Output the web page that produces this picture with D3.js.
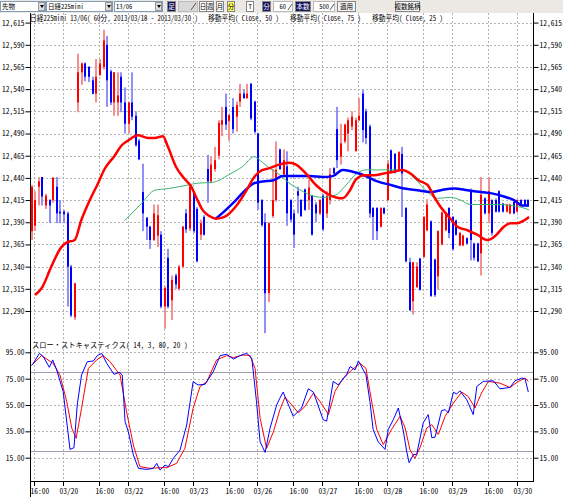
<!DOCTYPE html>
<html>
<head>
<meta charset="utf-8">
<script src="https://cdn.jsdelivr.net/npm/d3@7/dist/d3.min.js"></script>
<style>
body { margin: 0; background: #fff; }
svg text { font-family: "Noto Sans Mono CJK JP", "Noto Sans CJK JP", monospace; font-size: 7.5px; fill: #000; }
svg .toolbar text { font-size: 6.5px; }
</style>
</head>
<body>
<svg id="chart" width="563" height="497"></svg>
<script>
// hourly bars, 60分足
const opens  = [12380,12386,12430,12441,12409,12415,12415,12430,12402,12402,12400,12340,12283,12525,12559,12569,12565,12550,12535,12556,
                12565,12590,12560,12525,12525,12554,12525,12501,12525,12510,12482,12424,12395,12385,12370,12375,12376,12295,12350,12302,
                12330,12315,12340,12400,12383,12423,12405,12376,12396,12450,12436,12450,12465,12500,12520,12504,12520,12509,12526,12535,
                12530,12546,12526,12490,12415,12390,12310,12397,12415,12472,12444,12453,12415,12400,12425,12415,12427,12415,12420,12410,
                12400,12420,12400,12415,12451,12495,12464,12481,12490,12498,12470,12505,12535,12515,12498,12406,12406,12385,12406,12415,
                12471,12467,12449,12467,12406,12345,12301,12317,12349,12351,12381,12391,12348,12329,12365,12381,12406,12396,12392,12364,
                12364,12372,12425,12366,12366,12355,12417,12400,12415,12415,12425,12411,12402,12400,12413,12402,12415,12415,12415];
const highs  = [12432,12425,12441,12441,12422,12416,12441,12441,12415,12404,12402,12342,12322,12580,12570,12570,12566,12554,12574,12574,
                12607,12600,12562,12559,12559,12559,12542,12525,12559,12515,12484,12456,12396,12386,12410,12410,12380,12318,12360,12330,
                12332,12342,12386,12405,12432,12425,12407,12393,12398,12466,12464,12475,12505,12520,12535,12511,12530,12526,12546,12540,
                12546,12547,12527,12491,12416,12400,12390,12450,12481,12473,12472,12470,12416,12404,12430,12416,12428,12438,12421,12413,
                12416,12422,12425,12451,12452,12520,12501,12501,12508,12515,12508,12530,12540,12518,12500,12407,12407,12407,12407,12460,
                12472,12468,12470,12475,12407,12350,12345,12345,12350,12397,12416,12392,12349,12381,12402,12400,12407,12397,12393,12379,
                12376,12373,12428,12367,12367,12441,12418,12441,12416,12417,12426,12412,12411,12411,12414,12416,12416,12416,12416];
const lows   = [12370,12380,12409,12409,12405,12389,12412,12389,12389,12389,12295,12283,12280,12514,12545,12549,12548,12534,12525,12555,
                12562,12520,12522,12510,12510,12514,12490,12490,12505,12475,12460,12380,12370,12360,12369,12362,12293,12270,12293,12280,
                12315,12313,12338,12378,12380,12378,12345,12370,12375,12412,12435,12447,12461,12487,12494,12482,12490,12492,12520,12529,
                12529,12505,12490,12404,12385,12265,12300,12395,12413,12449,12441,12386,12390,12361,12400,12396,12403,12404,12375,12390,
                12398,12380,12395,12410,12444,12451,12455,12479,12470,12494,12470,12504,12480,12478,12395,12370,12370,12384,12399,12414,
                12445,12445,12448,12396,12345,12290,12286,12316,12313,12350,12380,12306,12306,12314,12364,12380,12372,12358,12375,12363,
                12363,12365,12347,12347,12345,12330,12399,12389,12375,12401,12401,12401,12401,12399,12399,12401,12408,12408,12408];
const closes = [12430,12415,12436,12419,12420,12409,12440,12400,12400,12399,12340,12285,12321,12559,12569,12554,12554,12535,12554,12569,
                12595,12550,12525,12559,12533,12525,12501,12525,12509,12477,12461,12400,12385,12370,12400,12398,12295,12316,12295,12325,
                12320,12340,12385,12382,12430,12380,12346,12389,12376,12436,12455,12460,12502,12505,12500,12511,12495,12522,12535,12530,
                12535,12507,12492,12412,12387,12310,12389,12415,12449,12450,12460,12400,12393,12376,12420,12397,12404,12429,12376,12400,
                12415,12382,12420,12444,12445,12460,12479,12500,12505,12509,12505,12510,12494,12485,12400,12396,12380,12406,12400,12456,
                12446,12446,12469,12445,12346,12291,12345,12340,12314,12396,12410,12307,12308,12380,12401,12400,12378,12360,12376,12378,
                12375,12366,12370,12350,12346,12421,12400,12425,12378,12402,12402,12402,12410,12410,12400,12415,12409,12409,12409];

// moving averages, [bar index, value]
const ma25 = [[1,12308],[3,12317],[5.5,12340],[8.3,12362],[9.7,12367],[12,12370],[13.8,12392],[16.2,12415],[18.5,12434],[20.3,12450],
              [23.1,12465],[24.9,12476],[26.8,12482],[29.6,12488],[32.4,12485],[34.2,12485],[36.5,12487],[37.9,12475],[40.2,12452],[42.5,12439],
              [44.4,12430],[46,12416],[47.5,12404],[49.4,12397],[51.2,12394],[54,12397],[56.8,12408],[59.6,12425],[61.4,12438],[63.3,12447],
              [66.1,12451],[68.8,12455],[71.6,12457],[73.5,12455],[76.2,12445],[79,12432],[81.8,12423],[84.6,12418],[86.4,12417],[88.3,12425],
              [90.1,12438],[92.4,12443],[95.1,12443],[97.9,12445],[100.7,12447],[103,12449],[105.3,12445],[107.6,12437],[110,12432],[111.8,12419],
              [113.7,12407],[116,12396],[118.3,12385],[121.1,12381],[123.8,12376],[126.6,12370],[128,12372],[129.4,12377],[131.2,12385],[133.1,12389],
              [135,12389],[136.8,12392],[138.2,12396]];
const ma50 = [[25.9,12392],[30.5,12411],[34.2,12426],[38,12428],[43.5,12432],[46,12434],[50.3,12435],[55,12444],[58.7,12453],[61.9,12464],
              [63.7,12459],[66.1,12451],[68.8,12444],[71.6,12434],[74.4,12427],[77.2,12421],[80.9,12418],[84.6,12421],[87.4,12432],[90.1,12444],
              [92.9,12449],[97,12449],[101.6,12449],[104,12447],[107.2,12436],[110,12424],[112.7,12417],[116.4,12418],[119.2,12415],[122,12410],
              [125.7,12410],[129.4,12410],[133.1,12409],[135.9,12407],[138.2,12404]];
const ma75 = [[51.2,12394],[54,12404],[56.8,12415],[59.6,12427],[61.9,12434],[64.2,12436],[67,12437],[69.8,12442],[73.5,12442],[77.2,12442],
              [80.9,12441],[83.7,12442],[86.4,12449],[89.2,12447],[92.4,12443],[96.1,12436],[99.8,12432],[103.5,12428],[107.2,12426],[110.9,12424],
              [114.6,12427],[117.4,12428],[121.1,12426],[124.8,12424],[128.5,12422],[131.2,12419],[134,12415],[136.3,12409],[138.2,12409]];

// slow stochastics %K (blue) and %D (red)
const stochK = [[0,85],[0.5,86.6],[2.2,94.2],[3.3,91.7],[4.95,83.6],[5.9,89.2],[7,81.6],[8.8,65.1],[10.7,21.3],[11.8,22.6],
                [12.7,55],[13.9,77.8],[15.5,87.9],[17.2,88.4],[18.3,92.5],[19.5,94.2],[20.9,86.6],[22.9,78.3],[24.4,79.8],[25.2,77.8],
                [26,42.3],[26.9,34.7],[28.3,17],[29.7,6.9],[32,6.1],[33.8,6.9],[34.8,10.7],[35.7,5.6],[37.1,9.4],[38,8.1],
                [39.4,14.5],[41.25,20.8],[43.1,39.8],[44.9,72.7],[46.3,70.2],[48.2,70.7],[50.5,80.3],[52.4,92.5],[54.2,93.5],[56.1,89.9],
                [57.9,92.5],[59.8,94.2],[61.2,90.4],[62.5,57.5],[63.5,27.1],[64.9,19],[66.25,37.3],[68.1,55],[69,60.2],[69.9,64.8],
                [72.7,46.4],[75,52.7],[76.9,67.3],[78.3,64.8],[81,43.9],[82,42.7],[83.8,72.9],[85.2,70.3],[87.5,77.9],[88.5,84.2],
                [89.9,81.7],[90.8,88.5],[92.9,77.9],[94,57.8],[94.9,36.4],[96.3,27.1],[98.2,21.3],[99.1,36.4],[100.5,43.9],[101.9,52.7],
                [103.3,35.1],[104.2,20],[104.9,11.2],[106.1,17.5],[107,17.5],[108.8,41.4],[110.2,47.7],[111.2,30.1],[112.1,30.6],[113.9,50.7],
                [114.9,51.5],[115.8,49],[117.2,64.8],[118.1,63.3],[119,65.8],[120.9,59],[122.7,47.7],[123.7,69.1],[125.5,72.9],[128.3,73.4],
                [130.1,67.3],[132.9,68.3],[134.3,73.4],[136.2,75.4],[137.1,74.9],[138,64.8]];
const stochD = [[0,85],[2.8,92.5],[6,86.6],[7.9,77.8],[9.8,57.5],[11.2,37.3],[12.4,29.7],[13.9,52.5],[15.8,82.8],[18.1,89.2],
                [19.9,92.5],[21.8,87.9],[24.6,77.8],[26.4,49.9],[28.3,24.6],[30.1,8.2],[32.9,6.9],[35.7,7.4],[37.5,7.4],[40.3,10.7],
                [42.6,22.1],[44.9,52.5],[46.8,68.9],[48.7,72.7],[51.4,89.2],[54.2,92.5],[56.1,91],[58.8,93],[60.7,92.5],[62.1,82.8],
                [63.5,44.9],[65.3,22.1],[67.2,34.7],[69,51.4],[70.4,60.8],[72.3,55.2],[74.1,49],[76,54],[78.3,64.1],[80.1,57.8],
                [82.5,47.7],[84.3,65.3],[86.6,75.4],[88.5,80.4],[91.2,86.7],[92.9,82.9],[94,65.3],[95.9,36.4],[97.7,25],[100,36.4],
                [102.4,46.4],[103.8,37.6],[105.1,21.3],[106.5,14.5],[107.9,22.5],[109.8,37.6],[111.2,40.1],[113,32.6],[114.9,46.4],[117.2,56.5],
                [119.5,64.8],[121.3,61.5],[123.2,52.7],[125,64.1],[126.9,72.9],[130.1,71.6],[132.9,68.3],[135.2,72.9],[137.1,75.4],[138,72.9]];

const priceTicks = [12290,12315,12340,12365,12390,12415,12440,12465,12490,12515,12540,12565,12590,12615];
const stochTicks = [15,35,55,75,95];
const stochBands = [80,20];
const timeTickIdx = [1,9,19,27,37,45,55,63,73,81,91,99,109,117,127,135];
const timeTickLabels = ["16:00","03/20","16:00","03/22","16:00","03/23","16:00","03/26","16:00","03/27","16:00","03/28","16:00","03/29","16:00","03/30"];

const title = "日経225mini 13/06( 60分, 2013/03/18 - 2013/03/30 )";
const maTitles = ["移動平均( Close, 50 )", "移動平均( Close, 75 )", "移動平均( Close, 25 )"];
const stochTitle = "スロー・ストキャスティクス( 14, 3, 80, 20 )";

const svg = d3.select("#chart");
const plotLeft = 30, plotRight = 533, plotTop = 13, mainBottom = 340, plotBottom = 481;

let x = d3.scaleLinear().domain([0, 138]).range([31.5, 31.5 + 3.6 * 138]),
    y = d3.scaleLinear().domain([12290, 12615]).range([311, 22.6]),
    ys = d3.scaleLinear().domain([15, 95]).range([457.7, 352.3]);

let candles = opens.map(function (o, i) {
    return {i: i, o: o, h: highs[i], l: lows[i], c: closes[i]};
});

// toolbar
const bar = svg.append("g").attr("class", "toolbar");
bar.append("rect").attr("x", 0).attr("y", 0).attr("width", 563).attr("height", 13).attr("fill", "#ece9e4");

function selectBox(x0, w, label) {
    bar.append("rect").attr("x", x0 + 0.5).attr("y", 1.5).attr("width", w).attr("height", 10)
        .attr("fill", "#fff").attr("stroke", "#7f9db9");
    bar.append("rect").attr("x", x0 + w - 6.5).attr("y", 2.5).attr("width", 6).attr("height", 8)
        .attr("fill", "#dcdcdc").attr("stroke", "#999");
    bar.append("path").attr("d", "M" + (x0 + w - 5) + ",5 h4 l-2,3 z").attr("fill", "#000");
    bar.append("text").attr("x", x0 + 2).attr("y", 8.5).text(label);
}
selectBox(0, 45, "先物");
selectBox(46, 66, "日経225mini");
selectBox(114, 48, "13/06");

function button(x0, w, label, fill, color) {
    bar.append("rect").attr("x", x0 + 0.5).attr("y", 1.5).attr("width", w).attr("height", 10)
        .attr("fill", fill).attr("stroke", "#888");
    bar.append("text").attr("x", x0 + w / 2 + 0.5).attr("y", 8.5).attr("text-anchor", "middle")
        .style("fill", color).text(label);
}
button(167, 8, "足", "#14145a", "#fff");
bar.append("rect").attr("x", 178.5).attr("y", 1.5).attr("width", 19).attr("height", 10).attr("fill", "#d8d8d8").attr("stroke", "#bbb");
bar.append("path").attr("d", "M191,10 l5,-7").attr("stroke", "#555");
button(199, 7, "日", "#fff", "#000");
button(206, 7, "週", "#fff", "#000");
button(216, 7, "月", "#fff", "#000");
button(227, 7, "分", "#ffff66", "#000");
button(246, 7, "T", "#fff", "#000");
button(262, 8, "分", "#14145a", "#fff");
bar.append("rect").attr("x", 273.5).attr("y", 1.5).attr("width", 19).attr("height", 10).attr("fill", "#fff").attr("stroke", "#bbb");
bar.append("text").attr("x", 286).attr("y", 8.5).attr("text-anchor", "end").text("60");
bar.append("path").attr("d", "M288,10 l4,-6").attr("stroke", "#555");
button(295, 15, "本数", "#14145a", "#fff");
bar.append("rect").attr("x", 313.5).attr("y", 1.5).attr("width", 21).attr("height", 10).attr("fill", "#fff").attr("stroke", "#bbb");
bar.append("text").attr("x", 329).attr("y", 8.5).attr("text-anchor", "end").text("500");
bar.append("path").attr("d", "M330,10 l4,-6").attr("stroke", "#555");
button(337, 18, "適用", "#f4f4f4", "#000");
button(395, 24, "複数銘柄", "#f4f4f4", "#000");

// grid
const grid = svg.append("g").attr("class", "grid");
function gx(idx) { return Math.round(x(idx) - 0.8) + 0.5; }

grid.selectAll(".vgrid").data(timeTickIdx).enter().append("line")
    .attr("class", "vgrid")
    .attr("x1", gx).attr("x2", gx)
    .attr("y1", plotTop).attr("y2", plotBottom)
    .attr("stroke", "#b4b4b4").attr("stroke-dasharray", "2,2");

grid.selectAll(".hgrid").data(priceTicks).enter().append("line")
    .attr("class", "hgrid")
    .attr("x1", plotLeft).attr("x2", plotRight)
    .attr("y1", function (d) { return Math.round(y(d)) + 0.5; })
    .attr("y2", function (d) { return Math.round(y(d)) + 0.5; })
    .attr("stroke", "#b4b4b4").attr("stroke-dasharray", "2,2");

grid.selectAll(".sgrid").data(stochTicks).enter().append("line")
    .attr("class", "sgrid")
    .attr("x1", plotLeft).attr("x2", plotRight)
    .attr("y1", function (d) { return Math.round(ys(d)) + 0.5; })
    .attr("y2", function (d) { return Math.round(ys(d)) + 0.5; })
    .attr("stroke", "#b4b4b4").attr("stroke-dasharray", "2,2");

grid.selectAll(".band").data(stochBands).enter().append("line")
    .attr("class", "band")
    .attr("x1", plotLeft).attr("x2", plotRight)
    .attr("y1", function (d) { return Math.round(ys(d)) + 0.5; })
    .attr("y2", function (d) { return Math.round(ys(d)) + 0.5; })
    .attr("stroke", "#a49cae");

// clip regions
const defs = svg.append("defs");
defs.append("clipPath").attr("id", "clipMain").append("rect")
    .attr("x", plotLeft + 1).attr("y", plotTop).attr("width", plotRight - plotLeft - 1).attr("height", mainBottom - plotTop);
defs.append("clipPath").attr("id", "clipStoch").append("rect")
    .attr("x", plotLeft + 1).attr("y", mainBottom).attr("width", plotRight - plotLeft - 1).attr("height", plotBottom - mainBottom);

// candles
const main = svg.append("g").attr("clip-path", "url(#clipMain)");
let candle = main.selectAll(".candle").data(candles).enter().append("g").attr("class", "candle");

candle.append("rect")
    .attr("x", function (d) { return Math.round(x(d.i)) - 1; })
    .attr("width", 2)
    .attr("y", function (d) { return y(d.h); })
    .attr("height", function (d) { return Math.max(1, y(d.l) - y(d.h)); })
    .attr("fill", function (d) { return d.c >= d.o ? "#f49090" : "#9090f8"; });

candle.append("rect")
    .attr("x", function (d) { return Math.round(x(d.i)) - 1; })
    .attr("width", 2)
    .attr("y", function (d) { return y(Math.max(d.o, d.c)); })
    .attr("height", function (d) { return Math.max(1.5, Math.abs(y(d.o) - y(d.c))); })
    .attr("fill", function (d) { return d.c >= d.o ? "#ff0000" : "#0000ff"; });

// moving averages
let maLine = d3.line()
    .curve(d3.curveMonotoneX)
    .x(function (d) { return x(d[0]); })
    .y(function (d) { return y(d[1]); });

main.append("path").attr("d", maLine(ma50)).attr("fill", "none").attr("stroke", "#3cb371").attr("stroke-width", 1);
main.append("path").attr("d", maLine(ma75)).attr("fill", "none").attr("stroke", "#0000ff").attr("stroke-width", 2.5);
main.append("path").attr("d", maLine(ma25)).attr("fill", "none").attr("stroke", "#ff0000").attr("stroke-width", 2.5);

// stochastics
const stoch = svg.append("g").attr("clip-path", "url(#clipStoch)");
let stLine = d3.line()
    .x(function (d) { return x(d[0]); })
    .y(function (d) { return ys(d[1]); });

stoch.append("path").attr("d", stLine(stochD)).attr("fill", "none").attr("stroke", "#ff0000").attr("stroke-width", 1);
stoch.append("path").attr("d", stLine(stochK)).attr("fill", "none").attr("stroke", "#0000ff").attr("stroke-width", 1);

// axes
const fmtPrice = d3.format(",");
const fmtStoch = d3.format(".2f");

svg.append("g").attr("class", "axis-left-main")
    .attr("transform", "translate(" + (plotLeft + 0.5) + ",0)")
    .call(d3.axisLeft(y).tickValues(priceTicks).tickFormat(fmtPrice).tickSize(5).tickPadding(1));
svg.append("g").attr("class", "axis-right-main")
    .attr("transform", "translate(" + (plotRight + 0.5) + ",0)")
    .call(d3.axisRight(y).tickValues(priceTicks).tickFormat(fmtPrice).tickSize(5).tickPadding(1));
svg.append("g").attr("class", "axis-left-stoch")
    .attr("transform", "translate(" + (plotLeft + 0.5) + ",0)")
    .call(d3.axisLeft(ys).tickValues(stochTicks).tickFormat(fmtStoch).tickSize(5).tickPadding(1));
svg.append("g").attr("class", "axis-right-stoch")
    .attr("transform", "translate(" + (plotRight + 0.5) + ",0)")
    .call(d3.axisRight(ys).tickValues(stochTicks).tickFormat(fmtStoch).tickSize(5).tickPadding(1));

svg.selectAll(".domain").remove();
svg.selectAll(".tick text").style("font-size", "7.5px").attr("font-family", null);
svg.selectAll(".tick line").attr("stroke", "#000");

// frame lines
svg.append("line").attr("x1", plotLeft + 0.5).attr("x2", plotLeft + 0.5).attr("y1", plotTop).attr("y2", 497).attr("stroke", "#000");
svg.append("line").attr("x1", plotRight + 0.5).attr("x2", plotRight + 0.5).attr("y1", plotTop).attr("y2", plotBottom).attr("stroke", "#000");
svg.append("line").attr("x1", plotLeft).attr("x2", plotRight + 1).attr("y1", plotBottom + 0.5).attr("y2", plotBottom + 0.5).attr("stroke", "#000");

// time axis
let tAxis = svg.append("g").attr("class", "axis-bottom");
tAxis.selectAll("line").data(timeTickIdx).enter().append("line")
    .attr("x1", gx).attr("x2", gx)
    .attr("y1", plotBottom).attr("y2", plotBottom + 5)
    .attr("stroke", "#000");
tAxis.selectAll("text").data(timeTickIdx).enter().append("text")
    .attr("x", function (d) { return gx(d) - 4; })
    .attr("y", 493.5)
    .text(function (d, k) { return timeTickLabels[k]; });

// titles, squeezed horizontally to the narrow bitmap-font widths of the original
function fitText(str, x0, y0, w) {
    let t = svg.append("text").text(str);
    let natural = t.node().getComputedTextLength();
    let sx = natural > w ? w / natural : 1;
    t.attr("transform", "translate(" + x0 + "," + y0 + ") scale(" + sx + ",1)");
    return t;
}
fitText(title, 30, 21, 168);
maTitles.forEach(function (d, k) { fitText(d, 208 + k * 82, 21, 71); });
fitText(stochTitle, 32, 348, 156);
</script>
</body>
</html>
